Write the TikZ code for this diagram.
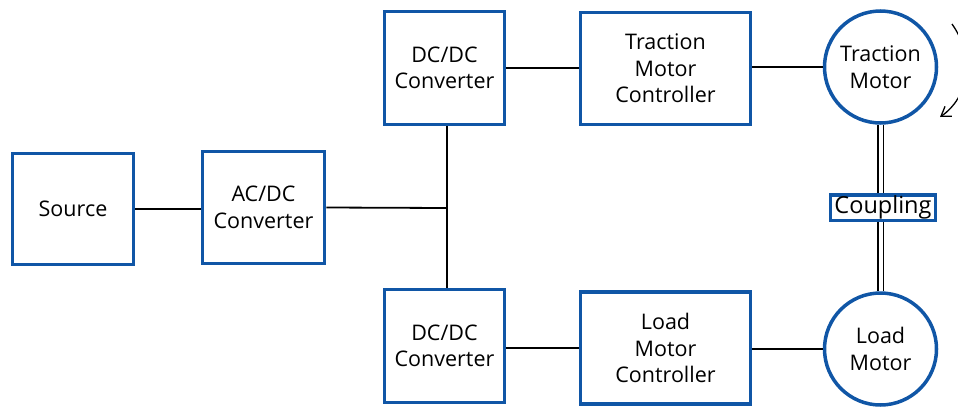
\documentclass[tikz,border=0pt]{standalone}
\usepackage{fontspec}
\setmainfont{Open Sans}
\usetikzlibrary{arrows.meta}
\definecolor{boxblue}{RGB}{16,86,166}

\tikzset{
  blk/.style={draw=boxblue,line width=3.5pt,align=center,inner sep=0pt,
    font=\fontsize{21.5}{26.5}\selectfont},
  mot/.style={circle,draw=boxblue,line width=3.5pt,align=center,inner sep=0pt,
    minimum size=112pt,font=\fontsize{21.5}{26.5}\selectfont},
  wire/.style={line width=1.8pt}
}

\begin{document}
\begin{tikzpicture}[x=1pt,y=-1pt]
  \useasboundingbox (0,0) rectangle (958,407);
  % boxes
  \node[blk,minimum width=121pt,minimum height=111pt] (src) at (73,209) {Source};
  \node[blk,minimum width=122pt,minimum height=112pt] (acdc) at (263.5,207.5) {AC/DC\\Converter};
  \node[blk,minimum width=120pt,minimum height=113pt] (dctop) at (444.5,68) {DC/DC\\Converter};
  \node[blk,minimum width=120pt,minimum height=113pt] (dcbot) at (444.5,346) {DC/DC\\Converter};
  \node[blk,minimum width=170pt,minimum height=112pt] (tmc) at (665.5,68.5) {Traction\\Motor\\Controller};
  \node[blk,minimum width=170pt,minimum height=112pt] (lmc) at (665.5,348) {Load\\Motor\\Controller};
  % motors
  \node[mot] (tmot) at (880.5,67) {Traction\\Motor};
  \node[mot] (lmot) at (880.5,349) {Load\\Motor};
  \node[draw=boxblue,line width=3.5pt,inner xsep=2pt,inner ysep=1pt,minimum width=105pt,
    font=\fontsize{23.5}{26}\selectfont] (coup) at (883,207.5) {Coupling};
  % wiring
  \coordinate (bus) at (447,208);
  \draw[wire] (src) -- (src -| acdc.west);
  \draw[wire] (acdc.east) -- (bus);
  \draw[wire] (dctop.south -| bus) -- (dcbot.north -| bus);
  \draw[wire] (dctop.east) -- (dctop.east -| tmc.west);
  \draw[wire] (tmc.east |- tmot) -- (tmot.west);
  \draw[wire] (dcbot.east |- lmc) -- (lmc.west);
  \draw[wire] (lmc.east |- lmot) -- (lmot.west);
  % shaft
  \draw[double,double distance=4pt,line width=1.4pt] (tmot.south) -- (tmot.south |- coup.north);
  \draw[double,double distance=4pt,line width=1.4pt] (lmot.north |- coup.south) -- (lmot.north);
  % rotation
  \draw[line width=1.3pt,-{Straight Barb[length=9pt,width=12pt]}]
    (952,24) .. controls (976,58) and (968,98) .. (940,117);
\end{tikzpicture}
\end{document}
